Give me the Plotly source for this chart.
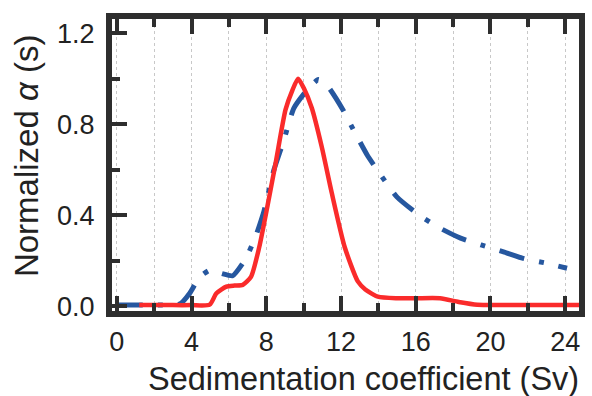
import plotly.graph_objects as go

# Data
red_x = [1.2, 2.0, 3.0, 4.0, 4.97, 5.33, 5.86, 6.3, 6.74, 7.18, 7.62, 8.06, 8.5, 9.03,
         9.4, 9.7, 10.0, 10.44, 10.97, 11.5, 12.2, 12.9, 13.3, 13.97, 15.0, 16.0, 17.3,
         18.3, 19.3, 21.0, 23.0, 25.0]
red_y = [0.006, 0.006, 0.006, 0.006, 0.008, 0.058, 0.087, 0.092, 0.095, 0.13, 0.26, 0.44,
         0.63, 0.864, 0.95, 1.0, 0.96, 0.87, 0.70, 0.50, 0.26, 0.11, 0.075, 0.043, 0.036,
         0.036, 0.036, 0.02, 0.008, 0.007, 0.007, 0.007]

blue_x = [0.0, 1.0, 2.0, 3.0, 3.4, 3.9, 4.44, 5.0, 5.6, 6.2, 6.9, 7.44, 7.88, 8.41, 8.94,
          9.47, 10.18, 10.79, 11.3, 12.1, 12.7, 13.4, 14.1, 15.0, 16.2, 17.3, 18.4, 19.5,
          20.7, 21.8, 23.0, 24.1]
blue_y = [0.007, 0.007, 0.007, 0.007, 0.012, 0.058, 0.13, 0.16, 0.145, 0.135, 0.21, 0.31,
          0.42, 0.6, 0.73, 0.87, 0.95, 0.996, 0.966, 0.864, 0.77, 0.665, 0.58, 0.48, 0.40,
          0.344, 0.30, 0.27, 0.24, 0.21, 0.19, 0.168]

x_ticks = [0, 4, 8, 12, 16, 20, 24]
y_ticks = [0.0, 0.4, 0.8, 1.2]
y_tick_text = ["0.0", "0.4", "0.8", "1.2"]

FONT = "Liberation Sans, Arial, Helvetica, sans-serif"
AX = "#2e2e2e"

fig = go.Figure()
fig.add_trace(go.Scatter(x=blue_x, y=blue_y, mode="lines",
                         line=dict(color="#26579f", width=5, dash="26px,15px,5px,15px",
                                   shape="spline", smoothing=0.5),
                         showlegend=False))
fig.add_trace(go.Scatter(x=red_x, y=red_y, mode="lines",
                         line=dict(color="#fa2b2b", width=4.5, shape="spline", smoothing=0.6),
                         showlegend=False))

fig.update_layout(
    width=592, height=396,
    margin=dict(l=112, r=7, t=19, b=85),
    paper_bgcolor="white", plot_bgcolor="white",
    font=dict(family=FONT, color="#222222"),
    xaxis=dict(
        range=[-0.26, 24.74], tickvals=x_ticks, ticks="inside", ticklen=15, tickwidth=4,
        tickcolor=AX, showline=True, linewidth=6, linecolor=AX, mirror="ticks",
        tickfont=dict(size=27, family=FONT, color="#222"), ticklabelstandoff=2,
        showgrid=True, gridcolor="#c8c8c8", gridwidth=1, griddash="dot", zeroline=False,
        minor=dict(dtick=2, tick0=0, ticks="inside", ticklen=8, tickwidth=4, tickcolor=AX,
                   showgrid=True, gridcolor="#c8c8c8", gridwidth=1, griddash="dot"),
    ),
    yaxis=dict(
        range=[-0.0198, 1.262], tickvals=y_ticks, ticktext=y_tick_text, ticks="inside",
        ticklen=15, tickwidth=4, tickcolor=AX, showline=True, linewidth=6, linecolor=AX,
        mirror=True, tickfont=dict(size=27, family=FONT, color="#222"), ticklabelstandoff=6,
        showgrid=False, zeroline=False,
        minor=dict(dtick=0.2, tick0=0, ticks="inside", ticklen=8, tickwidth=4, tickcolor=AX),
    ),
    annotations=[
        dict(text="Sedimentation coefficient (Sv)", x=367, y=379, xref="paper", yref="paper",
             showarrow=False, font=dict(size=32.5, family=FONT, color="#222"),
             xanchor="center", yanchor="middle"),
        dict(text="Normalized <i>α</i> (s)", x=25, y=156, xref="paper", yref="paper",
             showarrow=False, textangle=-90, font=dict(size=33, family=FONT, color="#222"),
             xanchor="center", yanchor="middle"),
    ],
)

# convert annotation pixel positions to paper coords
pw = 592 - 112 - 7
ph = 396 - 19 - 85
for a in fig.layout.annotations:
    a.x = (a.x - 112) / pw
    a.y = (396 - 85 - a.y) / ph

fig.write_html("out.html")
